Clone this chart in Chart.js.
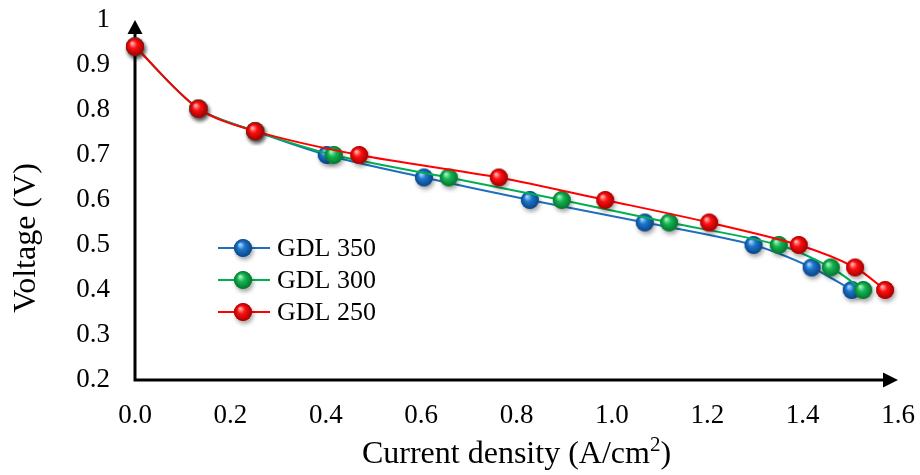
<!DOCTYPE html>
<html>
<head>
<meta charset="utf-8">
<script src="https://cdn.jsdelivr.net/npm/chart.js@4.4.1/dist/chart.umd.min.js"></script>
<style>
  html, body { margin: 0; padding: 0; background: #fff; }
  #wrap { width: 920px; height: 475px; }
</style>
</head>
<body>
<div id="wrap"><canvas id="polChart" width="920" height="475"></canvas></div>
<script>
// current density (A/cm2) and voltage (V)
const gdl350X = [0.0, 0.133, 0.252, 0.402, 0.606, 0.828, 1.069, 1.297, 1.419, 1.503];
const gdl350Y = [0.941, 0.803, 0.753, 0.70, 0.65, 0.60, 0.55, 0.50, 0.45, 0.40];
const gdl300X = [0.0, 0.133, 0.252, 0.417, 0.658, 0.895, 1.120, 1.350, 1.459, 1.527];
const gdl300Y = [0.941, 0.803, 0.753, 0.70, 0.65, 0.60, 0.55, 0.50, 0.45, 0.40];
const gdl250X = [0.0, 0.133, 0.252, 0.470, 0.763, 0.986, 1.204, 1.392, 1.510, 1.573];
const gdl250Y = [0.941, 0.803, 0.753, 0.70, 0.65, 0.60, 0.55, 0.50, 0.45, 0.40];

const seriesNames = ['GDL 350', 'GDL 300', 'GDL 250'];
const lineColors = ['#1f6fbd', '#00b050', '#ff0000'];

const serif = "'Liberation Serif', 'Times New Roman', serif";

// shaded ball used as marker (like the excel 3d bubbles)
function makeBall(base, light, dark) {
  const c = document.createElement('canvas');
  c.width = 30; c.height = 30;
  const g = c.getContext('2d');
  const cx = 15, cy = 15, r = 9;
  g.save();
  g.shadowColor = 'rgba(0,0,0,0.35)';
  g.shadowBlur = 4;
  g.shadowOffsetX = 1.5;
  g.shadowOffsetY = 3;
  g.beginPath();
  g.arc(cx, cy, r, 0, Math.PI * 2);
  g.fillStyle = base;
  g.fill();
  g.restore();
  const grad = g.createRadialGradient(cx - 3, cy - 3.5, 0.5, cx, cy, r);
  grad.addColorStop(0, light);
  grad.addColorStop(0.4, base);
  grad.addColorStop(1, dark);
  g.beginPath();
  g.arc(cx, cy, r, 0, Math.PI * 2);
  g.fillStyle = grad;
  g.fill();
  return c;
}

const balls = [
  makeBall('#1b75cc', '#a5d5ff', '#0c4482'),
  makeBall('#14b652', '#aaf3c3', '#077030'),
  makeBall('#ff1010', '#ffb8b8', '#a00000')
];

function toPoints(xs, ys) {
  return xs.map((x, i) => ({ x: x, y: ys[i] }));
}

const allSeries = [
  toPoints(gdl350X, gdl350Y),
  toPoints(gdl300X, gdl300Y),
  toPoints(gdl250X, gdl250Y)
];

const datasets = allSeries.map((pts, i) => ({
  label: seriesNames[i],
  data: pts,
  borderColor: lineColors[i],
  backgroundColor: lineColors[i],
  borderWidth: 2,
  tension: 0.3,
  pointStyle: balls[i],
  pointRadius: 9,
  pointHoverRadius: 9,
  clip: false,
  order: 2 - i   // red on top
}));

// black axes with arrow heads, drawn under the markers
const axesPlugin = {
  id: 'axesArrows',
  beforeDatasetsDraw(chart) {
    const { ctx, chartArea, scales } = chart;
    const x0 = scales.x.getPixelForValue(0);
    const xEnd = scales.x.getPixelForValue(1.6);
    const yBot = chartArea.bottom;
    const yTop = scales.y.getPixelForValue(1);
    ctx.save();
    ctx.strokeStyle = '#000';
    ctx.fillStyle = '#000';
    ctx.lineWidth = 3;
    ctx.beginPath();
    ctx.moveTo(x0, yBot);
    ctx.lineTo(x0, yTop + 12);
    ctx.moveTo(x0 - 1.5, yBot);
    ctx.lineTo(xEnd - 13, yBot);
    ctx.stroke();
    // up arrow
    ctx.beginPath();
    ctx.moveTo(x0, yTop);
    ctx.lineTo(x0 - 7.5, yTop + 14);
    ctx.lineTo(x0 + 7.5, yTop + 14);
    ctx.closePath();
    ctx.fill();
    // right arrow
    ctx.beginPath();
    ctx.moveTo(xEnd, yBot);
    ctx.lineTo(xEnd - 15, yBot - 7.5);
    ctx.lineTo(xEnd - 15, yBot + 7.5);
    ctx.closePath();
    ctx.fill();
    ctx.restore();
  }
};

// axis titles and the legend box inside the plot
const labelsPlugin = {
  id: 'titlesLegend',
  afterDraw(chart) {
    const { ctx, chartArea } = chart;
    ctx.save();
    ctx.fillStyle = '#000';
    ctx.textBaseline = 'alphabetic';
    ctx.textAlign = 'left';
    // x title with a real superscript 2
    const big = '32px ' + serif, small = '21px ' + serif;
    const partA = 'Current density (A/cm', partB = '2', partC = ')';
    ctx.font = big;
    const wA = ctx.measureText(partA).width, wC = ctx.measureText(partC).width;
    ctx.font = small;
    const wB = ctx.measureText(partB).width;
    let tx = (chartArea.left + chartArea.right) / 2 - (wA + wB + wC) / 2;
    ctx.font = big;
    ctx.fillText(partA, tx, 463);
    ctx.font = small;
    ctx.fillText(partB, tx + wA, 451);
    ctx.font = big;
    ctx.fillText(partC, tx + wA + wB, 463);

    ctx.textAlign = 'center';
    ctx.save();
    ctx.translate(35, 238);
    ctx.rotate(-Math.PI / 2);
    ctx.fillText('Voltage (V)', 0, 0);
    ctx.restore();

    ctx.font = '26px ' + serif;
    ctx.textAlign = 'left';
    ctx.textBaseline = 'middle';
    seriesNames.forEach((name, i) => {
      const y = 248 + i * 32;
      ctx.strokeStyle = lineColors[i];
      ctx.lineWidth = 2;
      ctx.beginPath();
      ctx.moveTo(218, y);
      ctx.lineTo(270, y);
      ctx.stroke();
      ctx.drawImage(balls[i], 243 - 15, y - 15);
      ctx.fillText(name, 277, y + 1);
    });
    ctx.restore();
  }
};

new Chart(document.getElementById('polChart').getContext('2d'), {
  type: 'line',
  data: { datasets: datasets },
  options: {
    responsive: false,
    animation: false,
    layout: { padding: { top: 20, right: 22, left: 0, bottom: 0 } },
    plugins: {
      legend: { display: false },
      tooltip: { enabled: false }
    },
    scales: {
      x: {
        type: 'linear',
        min: 0,
        max: 1.6,
        grid: { display: false, drawTicks: false },
        border: { display: false },
        ticks: {
          stepSize: 0.2,
          padding: 20,
          color: '#000',
          font: { family: serif, size: 27 },
          callback: v => v.toFixed(1)
        },
        afterFit: s => { s.height = 95; s.paddingLeft = 0; s.paddingRight = 0; }
      },
      y: {
        min: 0.2,
        max: 1,
        grid: { display: false, drawTicks: false },
        border: { display: false },
        ticks: {
          stepSize: 0.1,
          padding: 25,
          color: '#000',
          font: { family: serif, size: 27 },
          callback: v => (Math.abs(v - 1) < 1e-9 ? '1' : v.toFixed(1))
        },
        afterFit: s => { s.width = 135; s.paddingTop = 0; s.paddingBottom = 0; }
      }
    }
  },
  plugins: [axesPlugin, labelsPlugin]
});
</script>
</body>
</html>
